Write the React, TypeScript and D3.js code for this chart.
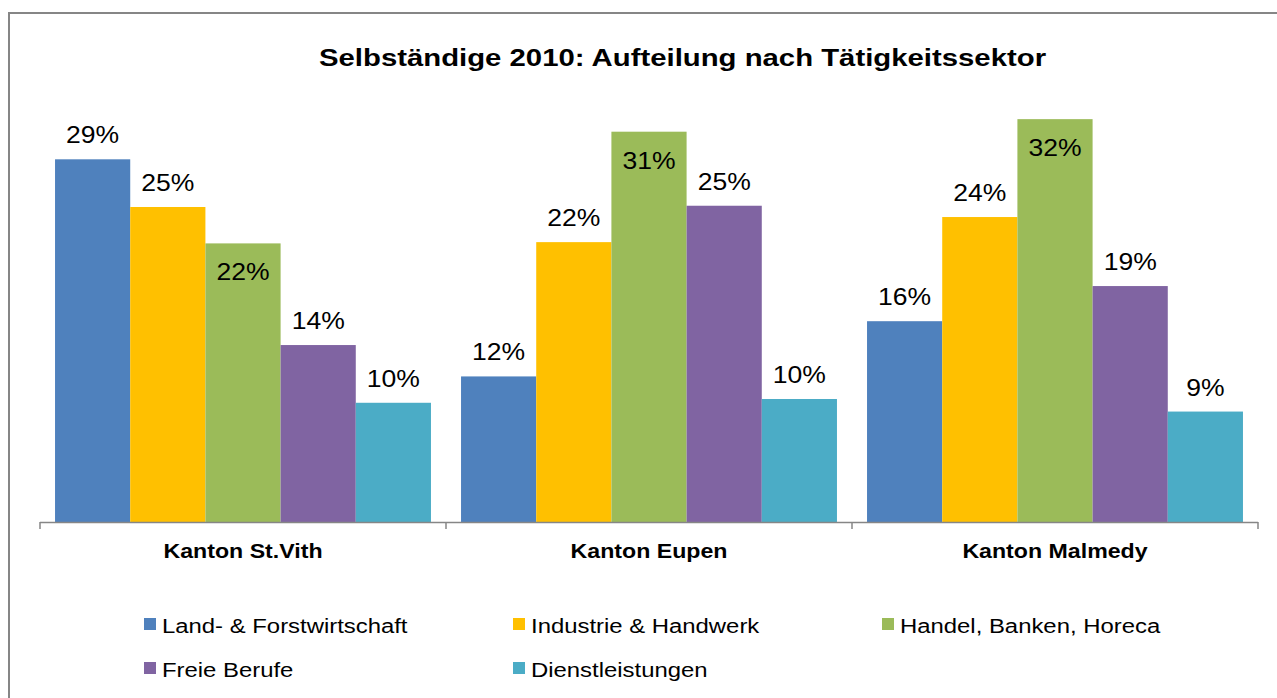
import { useEffect, useRef } from "react"
import * as d3 from "d3"

const categories = ["Kanton St.Vith", "Kanton Eupen", "Kanton Malmedy"]
const seriesNames = ["Land- & Forstwirtschaft", "Industrie & Handwerk", "Handel, Banken, Horeca", "Freie Berufe", "Dienstleistungen"]
const landForst = [28.9, 11.6, 16.0]
const industrie = [25.1, 22.3, 24.3]
const handel = [22.2, 31.1, 32.1]
const freieBerufe = [14.1, 25.2, 18.8]
const dienst = [9.5, 9.8, 8.8]
const seriesColors = ["#4F81BD", "#FFC000", "#9BBB59", "#8064A2", "#4BACC6"]
const title = "Selbständige 2010: Aufteilung nach Tätigkeitssektor"

export default function App() {
  const ref = useRef<SVGSVGElement | null>(null)

  useEffect(() => {
    document.body.style.margin = "0"
    const svg = d3.select(ref.current)
    svg.selectAll("*").remove()

    const font = "'Liberation Sans', Arial, sans-serif"
    const values = [landForst, industrie, handel, freieBerufe, dienst]

    // stretched text helper (the source text is wider than Arial)
    const addText = (x: number, y: number, txt: string, size: number, sx: number, anchor: string, bold = false) => {
      svg.append("text")
        .attr("transform", `translate(${x},${y}) scale(${sx},1)`)
        .attr("text-anchor", anchor)
        .style("font-family", font)
        .style("font-size", size + "px")
        .style("font-weight", bold ? "bold" : "normal")
        .style("fill", "#000")
        .text(txt)
    }

    // chart border
    svg.append("rect")
      .attr("x", 9).attr("y", 13)
      .attr("width", 1300).attr("height", 720)
      .attr("fill", "#fff")
      .attr("stroke", "#868686")
      .attr("stroke-width", 2)

    const x0 = d3.scaleBand().domain(categories).range([40, 1258]).padding(0)
    const x1 = d3.scaleBand().domain(seriesNames).range([0, x0.bandwidth()]).paddingInner(0).paddingOuter(0.2)
    const y = d3.scaleLinear().domain([0, 35]).range([522, 82.75])

    addText(682.5, 66, title, 23, 1.275, "middle", true)

    const groups = svg.selectAll("g.cat")
      .data(categories)
      .join("g")
      .attr("class", "cat")
      .attr("transform", d => `translate(${x0(d)},0)`)

    seriesNames.forEach((s, si) => {
      groups.append("rect")
        .attr("x", x1(s)!)
        .attr("y", (_, ci) => y(values[si][ci]))
        .attr("width", x1.bandwidth())
        .attr("height", (_, ci) => y(0) - y(values[si][ci]))
        .attr("fill", seriesColors[si])
    })

    // data labels
    categories.forEach((c, ci) => {
      seriesNames.forEach((s, si) => {
        const v = values[si][ci]
        const cx = x0(c)! + x1(s)! + x1.bandwidth() / 2
        const inside = si === 2
        const ly = inside ? y(v) + 37 : y(v) - 16
        addText(cx, ly, `${Math.round(v)}%`, 23.5, 1.13, "middle")
      })
    })

    // axis
    svg.append("line")
      .attr("x1", 40).attr("x2", 1258)
      .attr("y1", 522.5).attr("y2", 522.5)
      .attr("stroke", "#868686").attr("stroke-width", 1.5)
    const ticks = [...categories.map(c => x0(c)!), 1258]
    ticks.forEach(t => {
      svg.append("line")
        .attr("x1", t).attr("x2", t)
        .attr("y1", 522).attr("y2", 529)
        .attr("stroke", "#868686").attr("stroke-width", 1.5)
    })
    categories.forEach(c => {
      addText(x0(c)! + x0.bandwidth() / 2, 558, c, 20.5, 1.13, "middle", true)
    })

    // legend
    seriesNames.forEach((s, i) => {
      const lx = 144 + (i % 3) * 369
      const ly = 618 + Math.floor(i / 3) * 44
      svg.append("rect")
        .attr("x", lx).attr("y", ly)
        .attr("width", 12).attr("height", 12)
        .attr("fill", seriesColors[i])
      addText(lx + 18, ly + 14.5, s, 19.5, 1.225, "start")
    })
  }, [])

  return <svg ref={ref} width={1277} height={698} style={{ display: "block" }} />
}
